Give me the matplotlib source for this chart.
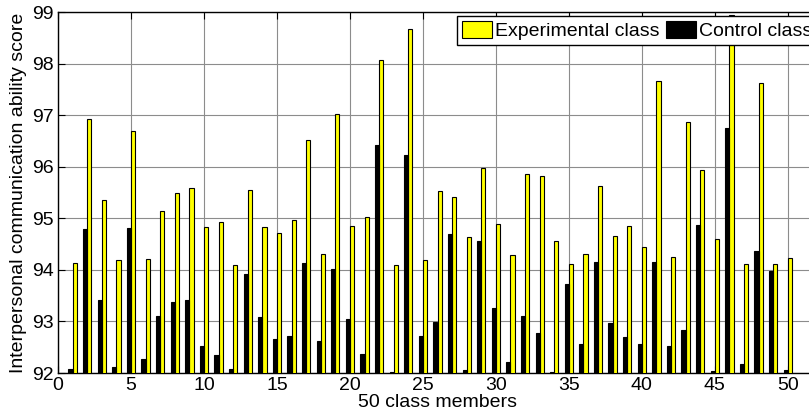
import numpy as np
import matplotlib
matplotlib.use("Agg")
import matplotlib.pyplot as plt

plt.rcParams['font.family'] = ['Liberation Sans', 'DejaVu Sans']

# scores, members 1..50
members = np.arange(1, 51)
experimental = [94.14, 96.93, 95.35, 94.20, 96.69, 94.21, 95.14, 95.50, 95.59, 94.84,
                94.92, 94.10, 95.55, 94.84, 94.71, 94.96, 96.51, 94.31, 97.03, 94.85,
                95.03, 98.07, 94.09, 98.68, 94.19, 95.52, 95.42, 94.63, 95.97, 94.89,
                94.29, 95.85, 95.82, 94.55, 94.11, 94.30, 95.62, 94.65, 94.85, 94.45,
                97.66, 94.25, 96.86, 95.94, 94.60, 98.95, 94.11, 97.62, 94.11, 94.23]
control = [92.08, 94.80, 93.42, 92.11, 94.82, 92.28, 93.10, 93.38, 93.41, 92.53,
           92.34, 92.08, 93.92, 93.09, 92.66, 92.71, 94.14, 92.63, 94.01, 93.05,
           92.37, 96.43, 92.02, 96.22, 92.71, 92.98, 94.69, 92.05, 94.55, 93.27,
           92.21, 93.10, 92.77, 92.01, 93.73, 92.56, 94.16, 92.96, 92.70, 92.57,
           94.15, 92.52, 92.83, 94.87, 92.04, 96.76, 92.18, 94.36, 93.98, 92.05]

fig = plt.figure(figsize=(8.09, 4.19), dpi=100)
ax = fig.add_axes([58 / 809, 46 / 419, 759 / 809, 361 / 419])

w = 0.285
off = 0.143
bar_exp = ax.bar(members + off, experimental, width=w, color='#ffff00',
                 edgecolor='black', linewidth=0.8, zorder=3)
bar_ctl = ax.bar(members - off, control, width=w, color='black',
                 edgecolor='black', linewidth=0.8, zorder=3)

ax.set_xlim(0, 52)
ax.set_ylim(92, 99)
ax.set_xticks(range(0, 51, 5))
ax.set_yticks(range(92, 100))
ax.grid(True, color='#8c8c8c', linewidth=0.8, linestyle='-')
ax.set_axisbelow(True)
ax.tick_params(direction='in', length=5, top=True, right=True, labelsize=14, pad=3)
for s in ax.spines.values():
    s.set_linewidth(1.0)

ax.set_xlabel('50 class members', fontsize=14, labelpad=0)
ax.set_ylabel('Interpersonal communication ability score', fontsize=14, labelpad=4)

# legend sits in one row and runs off the right edge, as in the original
leg = ax.legend([bar_exp, bar_ctl], ['Experimental class', 'Control class'],
                ncol=2, loc='upper left', bbox_to_anchor=(457 / 809, 1 - 16 / 419),
                bbox_transform=fig.transFigure, fontsize=14, frameon=True,
                fancybox=False, framealpha=1, edgecolor='black', borderaxespad=0,
                handlelength=1.55, handleheight=1.0, handletextpad=0.15,
                columnspacing=0.35, borderpad=0.25)
leg.get_frame().set_linewidth(1.0)
leg.set_zorder(5)

fig.savefig('out.png', dpi=100)
